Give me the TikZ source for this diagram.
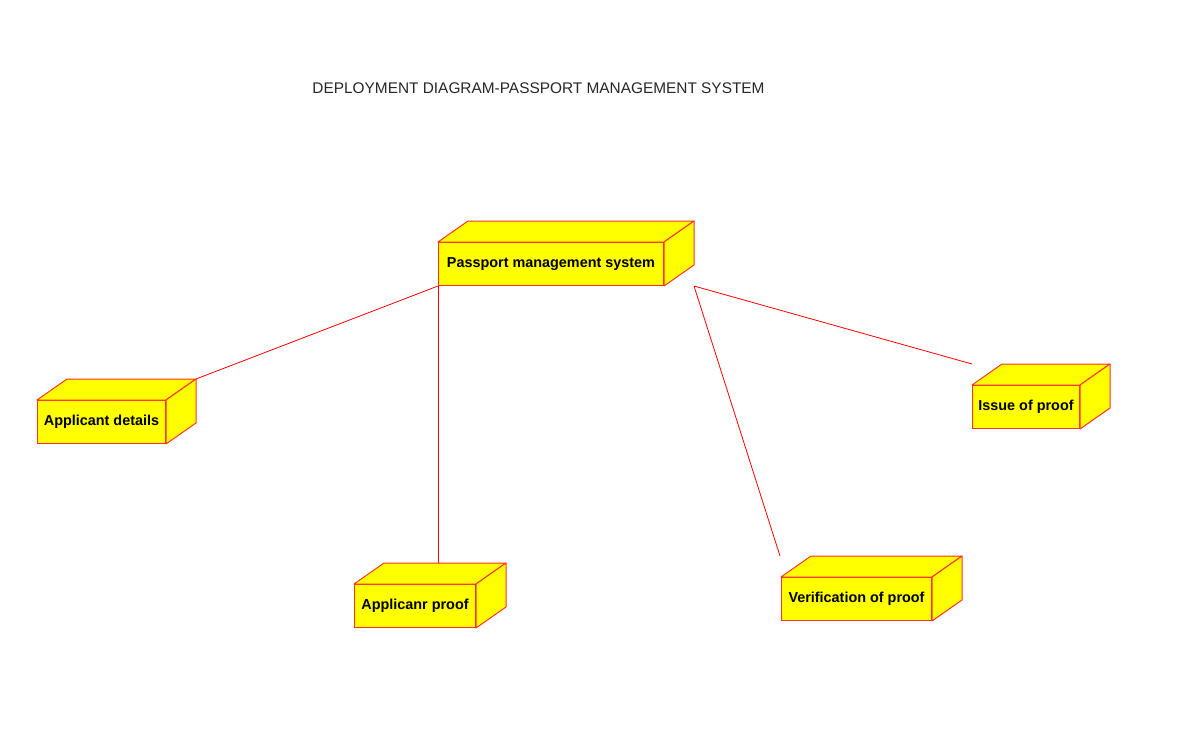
\documentclass[tikz,border=0pt]{standalone}
\usepackage{fontspec}
\setmainfont{Liberation Sans}
\usetikzlibrary{calc}
\definecolor{boxfill}{RGB}{255,255,0}
\definecolor{edge}{RGB}{255,50,40}
\tikzset{
  box/.style={rectangle, draw=edge, fill=boxfill, line width=1pt, inner sep=0pt,
    minimum height=43pt, anchor=north west, font=\fontsize{14.4}{16}\selectfont\bfseries},
  face/.style={draw=edge, fill=boxfill, line width=1pt, line join=round},
  link/.style={draw=red, line width=0.8pt},
  title/.style={font=\fontsize{15.4}{18}\selectfont, text=black!85}
}
\newcommand{\depbox}[5]{%
  \node[box, minimum width=#4pt] (#1) at (#2,#3) {#5};
  \path[face] (#1.north west) -- ([shift={(30,-21)}]#1.north west) -- ([shift={(30,-21)}]#1.north east) -- (#1.north east) -- cycle;
  \path[face] (#1.north east) -- ([shift={(30,-21)}]#1.north east) -- ([shift={(30,-21)}]#1.south east) -- (#1.south east) -- cycle;
  \coordinate (#1-btr) at ([shift={(30,-21)}]#1.north east);
  \coordinate (#1-btl) at ([shift={(30,-21)}]#1.north west);
}
\begin{document}
\begin{tikzpicture}[x=1pt,y=-1pt]
\useasboundingbox (0,0) rectangle (1195,729);
\node[title] (ttl) at (538.5,88) {DEPLOYMENT DIAGRAM-PASSPORT MANAGEMENT SYSTEM};
\depbox{pms}{438}{242}{225}{Passport management system}
\depbox{ad}{37}{400}{128}{Applicant details}
\depbox{ap}{354}{584}{121}{Applicanr proof}
\depbox{vp}{781}{577}{150}{Verification of proof}
\depbox{ip}{972}{385}{107}{Issue of proof}
\coordinate (pmsr) at (pms-btr |- pms.south east);
\coordinate (vpend) at (780,556);
\draw[link] (pms.south west) -- (ad-btr);
\draw[link] (pms.south west) -- (pms.south west |- ap-btl);
\draw[link] (pmsr) -- (vpend);
\draw[link] (pmsr) -- (ip.west |- ip-btl);
\end{tikzpicture}
\end{document}
